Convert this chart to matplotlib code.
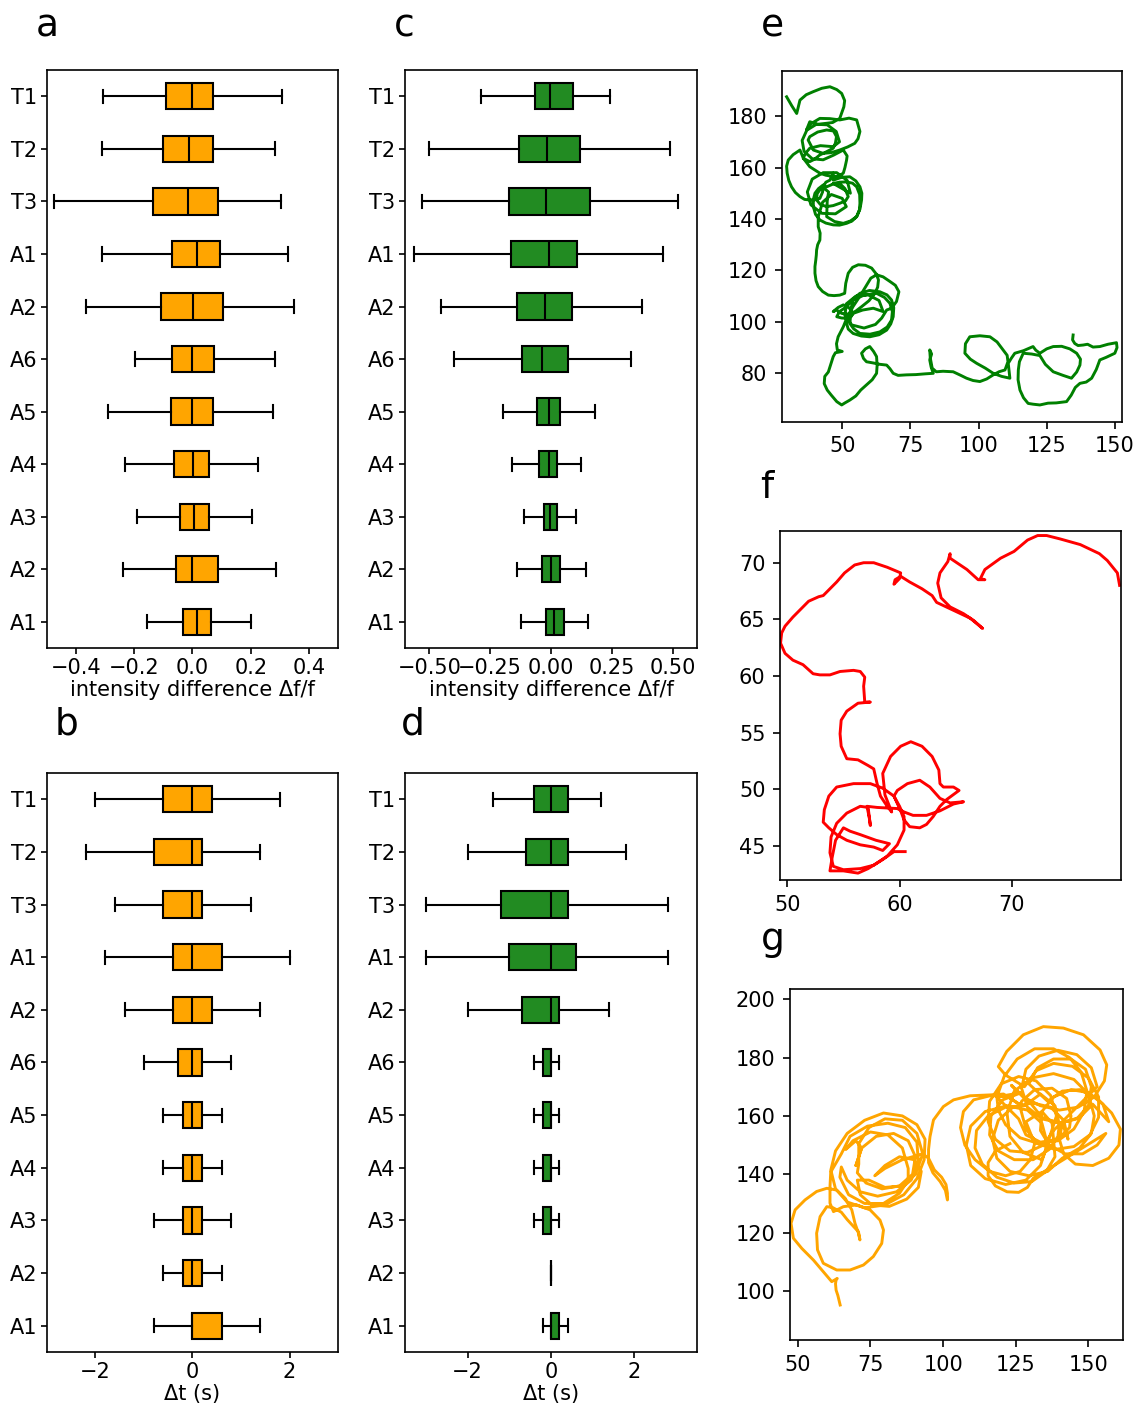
import matplotlib
matplotlib.use('Agg')
from matplotlib import pyplot as plt

# --- box plot summaries (top row of each panel first) ---
labels = ['T1', 'T2', 'T3', 'A1', 'A2', 'A6', 'A5', 'A4', 'A3', 'A2', 'A1']

# a : intensity difference, orange group
a_whislo = [-0.307, -0.310, -0.476, -0.310, -0.366, -0.196, -0.290, -0.231, -0.192, -0.239, -0.156]
a_q1 = [-0.090, -0.102, -0.137, -0.070, -0.108, -0.071, -0.073, -0.062, -0.043, -0.055, -0.032]
a_med = [0.000, -0.013, -0.016, 0.015, 0.001, 0.000, 0.000, 0.001, 0.005, 0.000, 0.016]
a_q3 = [0.070, 0.070, 0.089, 0.094, 0.106, 0.073, 0.070, 0.056, 0.058, 0.087, 0.062]
a_whishi = [0.309, 0.284, 0.304, 0.328, 0.350, 0.284, 0.275, 0.225, 0.205, 0.286, 0.201]

# c : intensity difference, green group
c_whislo = [-0.288, -0.502, -0.532, -0.562, -0.454, -0.398, -0.196, -0.159, -0.110, -0.139, -0.125]
c_q1 = [-0.066, -0.132, -0.173, -0.163, -0.140, -0.121, -0.059, -0.049, -0.030, -0.037, -0.022]
c_med = [-0.003, -0.018, -0.019, -0.010, -0.023, -0.036, -0.010, -0.007, -0.003, -0.001, 0.011]
c_q3 = [0.089, 0.121, 0.160, 0.108, 0.086, 0.069, 0.038, 0.025, 0.023, 0.036, 0.052]
c_whishi = [0.243, 0.491, 0.523, 0.460, 0.372, 0.329, 0.182, 0.123, 0.103, 0.145, 0.152]

# b : time lag, orange group
b_whislo = [-2.0, -2.2, -1.6, -1.8, -1.4, -1.0, -0.6, -0.6, -0.8, -0.6, -0.8]
b_q1 = [-0.6, -0.8, -0.6, -0.4, -0.4, -0.3, -0.2, -0.2, -0.2, -0.2, 0.0]
b_med = [0.0, 0.0, 0.0, 0.0, 0.0, 0.0, 0.0, 0.0, 0.0, 0.0, 0.0]
b_q3 = [0.4, 0.2, 0.2, 0.6, 0.4, 0.2, 0.2, 0.2, 0.2, 0.2, 0.6]
b_whishi = [1.8, 1.4, 1.2, 2.0, 1.4, 0.8, 0.6, 0.6, 0.8, 0.6, 1.4]

# d : time lag, green group
d_whislo = [-1.4, -2.0, -3.0, -3.0, -2.0, -0.4, -0.4, -0.4, -0.4, 0.0, -0.2]
d_q1 = [-0.4, -0.6, -1.2, -1.0, -0.7, -0.2, -0.2, -0.2, -0.2, 0.0, 0.0]
d_med = [0.0, 0.0, 0.0, 0.0, 0.0, 0.0, 0.0, 0.0, 0.0, 0.0, 0.0]
d_q3 = [0.4, 0.4, 0.4, 0.6, 0.2, 0.0, 0.0, 0.0, 0.0, 0.0, 0.2]
d_whishi = [1.2, 1.8, 2.8, 2.8, 1.4, 0.2, 0.2, 0.2, 0.2, 0.0, 0.4]

# --- trajectories (x, y) ---
path_e = [
    (29.6, 187.5), (31.5, 184.0), (33.3, 181.0), (34.5, 186.2), (36.8, 188.3), (39.4, 189.5), (42.5, 190.8),
    (45.5, 191.4), (48.0, 190.3), (49.8, 188.8), (50.9, 186.0), (50.6, 183.6), (49.1, 179.1), (46.5, 177.5),
    (44.3, 177.2), (41.0, 176.8), (38.1, 177.8), (36.9, 174.6), (38.5, 177.0), (41.8, 179.1), (45.5, 179.0),
    (49.1, 178.5), (52.5, 179.2), (55.3, 178.5), (56.5, 174.0), (55.8, 171.2), (54.6, 169.4), (52.0, 168.0),
    (49.1, 166.8), (46.0, 165.8), (43.0, 165.5), (39.4, 166.8), (37.5, 170.7), (38.1, 172.0), (41.0, 173.8),
    (44.3, 174.6), (46.8, 174.2), (47.9, 172.0), (47.5, 169.5), (46.7, 167.5), (44.0, 166.0), (41.8, 164.9),
    (39.8, 163.2), (38.1, 162.3), (35.7, 163.6), (36.5, 165.5), (38.1, 167.5), (42.0, 168.5), (46.7, 168.1),
    (49.0, 170.0), (47.8, 174.0), (44.5, 176.6), (40.5, 176.8), (37.0, 174.5), (35.3, 170.5), (36.0, 166.3),
    (39.0, 163.4), (43.0, 163.0), (46.8, 164.8), (50.4, 166.8), (51.8, 164.5), (51.6, 162.9), (51.0, 160.0),
    (50.4, 157.8), (48.5, 156.6), (46.7, 156.5), (44.0, 157.0), (41.8, 157.8), (38.1, 160.3), (35.8, 163.5),
    (34.5, 166.8), (32.0, 165.0), (30.2, 162.9), (29.6, 160.5), (29.8, 157.8), (30.4, 155.0), (31.4, 152.5),
    (32.8, 150.3), (34.5, 148.7), (36.2, 147.6), (38.1, 147.4), (40.2, 147.5), (41.8, 148.0), (42.8, 150.5),
    (43.0, 152.5), (44.0, 154.3), (45.5, 155.1), (46.7, 157.8), (46.7, 155.1), (49.8, 156.2), (52.8, 156.4),
    (55.0, 154.8), (56.5, 152.5), (57.2, 150.0), (57.1, 147.4), (56.5, 143.8), (55.3, 140.9), (53.6, 139.2),
    (51.6, 138.3), (49.0, 137.6), (46.7, 137.7), (44.0, 138.4), (41.8, 139.6), (40.2, 141.8), (39.4, 144.8),
    (39.4, 147.5), (40.0, 150.0), (41.3, 151.8), (43.0, 153.2), (44.3, 152.5), (46.7, 153.6), (49.1, 153.8),
    (51.0, 151.8), (52.2, 148.7), (51.2, 147.0), (49.1, 146.1), (46.7, 145.2), (44.3, 144.8), (42.0, 145.6),
    (40.6, 147.4), (40.8, 149.8), (41.8, 151.3), (43.5, 151.8), (45.0, 150.5), (44.5, 147.0), (44.3, 140.9),
    (47.2, 139.0), (50.4, 138.3), (53.0, 139.2), (55.3, 140.9), (56.3, 143.5), (56.5, 146.1), (56.4, 149.5),
    (55.3, 152.5), (53.8, 153.9), (51.6, 154.4), (49.0, 154.3), (46.7, 153.8), (53.0, 150.0), (51.8, 155.0),
    (48.0, 158.0), (43.0, 158.0), (39.0, 155.5), (37.2, 150.5), (38.5, 145.5), (42.5, 142.2), (47.5, 142.0),
    (51.5, 144.8), (50.0, 148.0), (46.0, 149.5), (42.8, 146.5), (41.8, 143.0), (41.2, 140.9), (41.2, 137.0),
    (41.9, 134.5), (41.8, 131.8), (41.0, 130.0), (40.6, 127.9), (40.5, 126.0), (40.3, 124.0), (40.0, 121.5),
    (40.0, 118.9), (40.4, 116.0), (41.2, 113.7), (42.8, 111.8), (44.9, 110.4), (47.0, 110.2), (49.1, 110.4),
    (50.9, 111.1), (51.3, 115.0), (52.2, 118.9), (53.8, 121.2), (55.9, 122.2), (58.5, 122.0), (60.8, 120.9),
    (62.5, 118.6), (63.3, 116.3), (63.0, 113.5), (62.0, 111.1), (59.8, 108.2), (57.1, 105.9), (55.0, 104.2),
    (53.4, 103.3), (51.5, 103.0), (49.8, 103.3), (47.9, 104.6), (46.7, 104.0), (48.5, 105.6), (50.4, 106.6),
    (52.5, 105.5), (54.0, 103.3), (53.0, 102.0), (51.6, 101.4), (49.8, 101.5), (48.0, 102.0), (49.0, 104.0),
    (51.6, 105.9), (53.8, 108.6), (56.5, 111.1), (60.0, 112.2), (63.8, 111.7), (66.4, 110.5), (68.1, 108.5),
    (68.9, 105.5), (68.7, 102.0), (67.8, 99.2), (66.3, 96.8), (63.5, 95.0), (60.1, 94.2), (57.0, 94.5),
    (54.0, 95.5), (52.2, 97.2), (51.6, 99.4), (51.8, 101.5), (52.8, 103.3), (54.0, 108.5), (58.0, 110.4),
    (62.6, 111.1), (65.5, 109.5), (67.5, 107.2), (68.4, 104.0), (68.1, 100.7), (66.5, 98.0), (63.8, 96.1),
    (60.2, 95.2), (56.5, 95.5), (54.2, 97.3), (52.8, 99.4), (53.0, 101.6), (54.0, 103.3), (57.5, 104.6),
    (61.4, 105.3), (65.0, 104.0), (63.5, 108.3), (59.5, 110.5), (55.0, 110.0), (51.5, 107.0), (51.0, 102.5),
    (53.5, 98.8), (58.0, 97.6), (62.2, 99.0), (64.5, 101.5), (66.3, 104.6), (68.1, 105.3), (69.9, 107.9),
    (70.8, 111.7), (69.5, 114.2), (67.5, 115.7), (65.0, 117.5), (62.6, 118.3), (60.5, 117.0), (58.8, 114.0),
    (56.5, 110.0), (54.0, 106.0), (51.5, 101.0), (50.4, 98.1), (48.5, 94.2), (47.9, 91.5), (48.2, 89.1),
    (50.0, 88.5), (47.5, 88.0), (46.7, 86.5), (45.8, 83.5), (44.9, 80.5), (43.6, 78.8), (43.4, 76.0),
    (44.5, 73.5), (46.0, 71.5), (48.0, 69.0), (49.8, 67.7), (51.0, 68.5), (52.8, 69.6), (55.0, 71.2),
    (56.8, 73.5), (58.9, 75.5), (61.0, 77.5), (62.6, 80.0), (62.8, 83.0), (62.6, 86.5), (61.5, 88.5),
    (60.1, 90.4), (58.5, 89.5), (57.1, 87.8), (57.8, 85.8), (58.9, 84.5), (61.5, 84.0), (63.8, 83.5),
    (66.3, 83.2), (67.5, 81.8), (68.7, 80.0), (70.5, 79.2), (73.6, 79.4), (77.0, 79.5), (80.5, 79.8),
    (83.4, 80.0), (82.6, 82.5), (82.1, 85.2), (82.8, 87.5), (82.1, 89.1), (82.3, 86.0), (83.0, 82.0),
    (84.5, 80.6), (87.0, 80.8), (90.7, 80.6), (93.5, 79.2), (95.6, 78.1), (98.0, 77.2), (100.5, 76.8),
    (103.0, 77.8), (105.4, 79.4), (107.5, 80.6), (109.7, 81.3), (110.8, 84.5), (110.5, 87.0), (109.0, 89.1),
    (106.8, 92.2), (104.2, 94.2), (100.5, 94.6), (96.8, 94.2), (95.2, 91.5), (95.0, 87.8), (97.0, 85.5),
    (99.3, 83.9), (102.5, 82.0), (105.4, 80.0), (108.5, 78.8), (111.5, 78.1), (111.2, 81.0), (110.9, 83.9),
    (112.0, 85.8), (113.3, 87.8), (116.5, 88.8), (120.0, 90.4), (121.0, 89.0), (122.5, 87.8), (125.0, 89.5),
    (127.4, 90.4), (130.5, 90.5), (133.5, 89.5), (136.0, 87.8), (137.4, 85.5), (137.2, 83.2), (136.0, 80.5),
    (134.1, 78.1), (131.0, 79.2), (127.4, 80.6), (124.5, 83.5), (122.5, 86.9), (119.5, 87.5), (116.4, 87.8),
    (115.0, 84.5), (114.6, 81.3), (114.5, 77.5), (115.2, 73.5), (116.5, 70.5), (118.2, 68.3), (120.0, 68.0),
    (122.5, 67.7), (125.5, 68.4), (128.5, 68.5), (132.3, 69.0), (134.0, 71.5), (135.5, 74.5), (137.2, 76.1),
    (139.5, 76.6), (141.5, 78.1), (143.2, 81.5), (144.5, 85.2), (146.8, 86.2), (150.0, 87.8), (150.8, 90.0),
    (150.6, 91.9), (147.5, 91.3), (144.5, 90.4), (142.0, 90.2), (140.0, 91.3), (138.4, 91.0), (136.5, 90.8),
    (135.3, 91.6), (134.5, 93.0), (134.7, 94.9),
]

path_f = [
    (79.6, 68.0), (79.4, 69.1), (78.5, 70.2), (77.8, 70.8), (76.1, 71.6), (74.3, 72.1), (73.1, 72.4),
    (72.3, 72.4), (71.4, 72.0), (70.2, 71.0), (69.0, 70.4), (67.6, 69.4), (67.2, 68.6), (67.6, 68.5),
    (67.0, 68.5), (66.0, 69.4), (64.5, 70.4), (64.5, 70.8), (64.3, 70.1), (63.6, 69.1), (63.4, 68.2),
    (63.7, 66.9), (64.5, 66.1), (65.7, 65.5), (66.6, 64.9), (67.4, 64.2), (66.3, 65.1), (64.8, 65.8),
    (63.3, 66.5), (62.9, 67.1), (62.0, 67.7), (60.9, 68.3), (60.1, 68.8), (59.6, 68.5), (59.5, 68.1),
    (60.0, 68.6), (60.1, 69.1), (58.9, 69.6), (57.7, 70.0), (56.8, 70.0), (56.0, 69.8), (55.1, 69.1),
    (54.4, 68.3), (53.5, 67.4), (53.2, 67.1), (52.8, 67.0), (51.9, 66.6), (51.1, 65.8), (50.5, 65.2),
    (49.8, 64.4), (49.5, 63.8), (49.4, 62.9), (49.8, 62.0), (50.5, 61.4), (51.4, 61.0), (52.3, 60.2),
    (52.9, 60.1), (53.8, 60.1), (54.7, 60.4), (55.9, 60.5), (56.5, 60.4), (56.9, 59.9), (56.8, 59.1),
    (56.9, 57.7), (57.4, 57.7), (56.3, 57.6), (55.3, 56.9), (54.8, 56.1), (54.7, 54.9), (54.8, 53.8),
    (55.3, 52.7), (56.3, 52.6), (57.2, 52.1), (57.7, 51.8), (58.0, 50.5), (58.3, 49.4), (58.9, 48.5),
    (59.3, 48.0), (58.7, 49.5), (58.5, 51.4), (59.2, 52.9), (60.1, 53.8), (61.0, 54.2), (62.0, 53.8),
    (62.9, 52.9), (63.5, 51.7), (63.6, 50.5), (63.9, 50.2), (64.8, 50.2), (65.3, 49.9), (64.2, 49.1),
    (63.6, 48.5), (63.0, 47.6), (62.4, 46.9), (61.8, 46.6), (60.9, 46.7), (60.4, 47.3), (60.1, 48.1),
    (59.5, 49.4), (59.8, 49.9), (60.7, 50.5), (61.8, 50.8), (62.7, 50.2), (63.6, 49.2), (64.5, 48.8),
    (65.7, 48.9), (64.8, 48.7), (63.6, 48.1), (62.4, 47.7), (61.2, 47.7), (60.4, 48.0), (59.8, 48.3),
    (58.0, 48.4), (57.1, 48.5), (57.3, 47.5), (57.4, 46.8), (57.2, 48.4), (56.5, 48.5), (55.3, 47.9),
    (54.4, 47.0), (53.9, 45.8), (53.8, 44.4), (54.1, 43.2), (55.0, 42.9), (56.5, 43.0), (57.7, 43.3),
    (58.9, 44.1), (59.8, 45.1), (60.4, 46.4), (60.4, 47.6), (60.0, 48.5), (59.5, 49.4), (58.5, 50.1),
    (57.4, 50.5), (55.9, 50.5), (54.4, 50.2), (53.7, 49.4), (53.3, 48.2), (53.2, 47.1), (53.7, 46.6),
    (54.4, 46.0), (55.3, 45.5), (56.5, 45.1), (57.7, 44.9), (58.5, 44.6), (59.1, 45.2), (57.9, 45.5),
    (56.5, 46.0), (55.6, 46.3), (55.0, 46.6), (54.3, 45.5), (54.0, 44.0), (53.8, 42.8), (55.0, 42.8),
    (56.3, 42.6), (57.2, 43.0), (58.5, 43.8), (59.5, 44.5), (60.5, 44.5),
]

path_g = [
    (64.6, 95.2), (63.8, 98.5), (63.2, 100.3), (63.0, 102.5), (63.2, 103.8), (63.6, 104.3), (61.7, 103.2),
    (58.8, 106.6), (55.4, 110.6), (51.4, 114.6), (48.5, 118.1), (47.7, 123.2), (49.1, 127.8), (52.5, 131.2),
    (56.5, 134.1), (60.0, 135.2), (63.4, 134.6), (66.3, 131.8), (68.6, 127.8), (69.7, 123.2), (70.9, 119.8),
    (71.4, 117.5), (70.9, 120.3), (69.2, 122.1), (67.0, 124.5), (65.0, 127.0), (62.0, 128.6), (60.0, 128.9),
    (57.7, 125.5), (56.5, 119.8), (56.8, 114.1), (58.8, 109.5), (63.4, 107.2), (68.0, 107.2), (72.6, 108.9),
    (76.0, 111.8), (78.9, 116.3), (79.5, 120.9), (78.3, 124.3), (74.9, 127.8), (70.3, 129.5), (65.7, 128.9),
    (62.3, 127.2), (61.1, 130.1), (61.1, 135.8), (61.4, 141.5), (63.0, 148.0), (67.0, 154.0), (73.0, 158.5),
    (79.5, 161.0), (86.0, 160.0), (91.0, 157.0), (93.8, 152.0), (93.5, 145.0), (91.0, 138.5), (86.5, 133.0),
    (80.0, 129.5), (73.0, 128.5), (67.0, 130.5), (63.0, 135.0), (61.5, 141.0), (65.0, 147.0), (68.0, 153.0),
    (74.0, 156.5), (81.0, 157.5), (87.0, 156.0), (91.0, 151.0), (91.5, 144.0), (89.0, 138.0), (84.0, 134.0),
    (77.5, 132.5), (71.5, 134.0), (67.0, 138.0), (65.0, 142.5), (64.5, 139.0), (67.5, 133.0), (73.0, 130.0),
    (79.5, 130.0), (85.0, 133.5), (88.0, 138.0), (88.0, 142.0), (86.0, 149.0), (81.0, 153.5), (75.0, 154.5),
    (69.0, 151.5), (66.5, 148.5), (70.0, 151.5), (72.0, 149.0), (70.0, 143.0), (72.0, 149.0), (77.0, 153.0),
    (83.0, 154.0), (88.0, 151.5), (90.5, 146.0), (89.5, 140.0), (85.0, 136.0), (79.0, 135.0), (73.5, 137.0),
    (70.5, 140.5), (71.0, 143.5), (71.0, 150.5), (74.5, 156.0), (80.0, 159.0), (86.0, 158.5), (91.0, 154.0),
    (93.0, 147.0), (90.5, 140.0), (86.0, 136.0), (80.0, 135.5), (74.5, 138.0), (70.5, 138.0), (71.5, 133.0),
    (75.5, 129.5), (81.5, 129.0), (87.5, 131.5), (91.5, 135.5), (92.5, 141.0), (90.0, 145.0), (85.0, 146.0),
    (80.0, 143.0), (76.5, 139.5), (80.0, 142.0), (86.0, 145.0), (93.0, 147.0), (95.0, 145.5), (97.0, 141.5),
    (99.5, 139.0), (101.0, 136.5), (101.5, 133.5), (101.5, 131.2), (100.8, 134.5), (99.0, 137.5),
    (96.5, 140.5), (95.0, 144.0), (95.0, 148.5), (95.5, 152.9), (96.7, 158.6), (100.1, 163.2),
    (103.6, 165.5), (109.3, 166.9), (116.2, 167.2), (120.8, 167.5), (127.0, 163.5), (122.5, 166.5),
    (116.5, 167.0), (110.5, 165.5), (107.0, 161.5), (106.0, 156.0), (107.5, 150.0), (111.0, 145.0),
    (116.0, 141.0), (121.5, 139.5), (126.5, 141.0), (130.0, 145.0), (131.5, 150.5), (128.5, 158.0),
    (134.0, 161.5), (137.5, 157.5), (138.0, 152.0), (138.5, 146.0), (135.5, 141.0), (130.5, 137.5),
    (124.5, 137.0), (118.5, 139.0), (113.5, 143.5), (111.0, 149.0), (111.5, 155.0), (115.5, 160.0),
    (121.5, 163.0), (128.0, 163.5), (133.5, 167.5), (138.5, 163.5), (140.0, 157.0), (139.5, 153.0),
    (136.5, 148.5), (131.0, 145.0), (124.5, 145.0), (119.0, 148.0), (116.0, 153.5), (116.5, 160.0),
    (120.5, 165.5), (127.0, 168.0), (118.5, 166.5), (119.0, 162.0), (121.5, 157.0), (126.5, 152.5),
    (133.0, 150.5), (139.5, 151.5), (145.0, 155.5), (148.5, 161.5), (149.5, 168.5), (147.5, 175.0),
    (143.5, 180.0), (138.0, 183.0), (131.5, 183.0), (125.5, 179.5), (121.0, 173.5), (118.5, 166.5),
    (126.0, 159.0), (128.5, 153.5), (133.5, 151.0), (139.5, 152.0), (143.5, 156.0), (144.0, 160.0),
    (142.5, 166.0), (137.5, 169.5), (131.5, 169.0), (127.0, 165.0), (126.5, 163.0), (128.5, 155.5),
    (132.5, 150.5), (138.5, 148.5), (145.0, 149.5), (150.5, 153.5), (153.5, 159.5), (153.5, 166.5),
    (150.0, 173.0), (144.5, 177.0), (138.0, 178.0), (132.0, 175.5), (128.0, 170.0), (121.5, 174.0),
    (119.0, 176.9), (121.9, 182.1), (127.6, 187.8), (134.5, 190.6), (141.4, 190.1), (148.3, 187.8),
    (154.0, 182.6), (156.3, 177.5), (155.5, 172.0), (152.0, 166.5), (146.5, 163.0), (140.0, 162.0),
    (133.5, 163.5), (127.5, 166.5), (123.5, 170.5), (130.0, 164.5), (134.0, 159.5), (140.0, 157.5),
    (146.0, 159.0), (150.0, 163.5), (151.0, 170.0), (149.0, 176.0), (144.0, 179.5), (138.0, 179.5),
    (132.5, 176.5), (129.5, 171.0), (136.0, 165.0), (141.0, 168.5), (147.0, 169.0), (153.0, 166.0),
    (158.0, 161.0), (161.0, 155.5), (160.5, 150.0), (157.0, 145.5), (151.5, 143.0), (145.5, 143.5),
    (141.5, 147.0), (140.0, 152.0), (141.0, 157.5), (143.0, 152.0), (141.5, 158.5), (137.0, 163.0),
    (130.5, 164.5), (124.0, 163.0), (119.0, 158.5), (117.0, 152.0), (118.5, 145.5), (123.0, 141.0),
    (129.5, 139.5), (136.0, 141.0), (141.0, 145.5), (147.0, 149.0), (151.0, 154.0), (152.0, 160.0),
    (150.0, 167.5), (145.0, 172.5), (138.0, 174.5), (130.5, 173.0), (124.5, 168.5), (122.0, 161.0),
    (123.0, 153.0), (127.5, 147.5), (134.0, 145.0), (136.0, 150.0), (134.0, 157.5), (129.0, 162.0),
    (122.0, 163.5), (114.5, 161.5), (109.5, 156.5), (108.0, 150.0), (109.5, 143.0), (114.5, 138.5),
    (121.5, 136.5), (128.5, 138.0), (133.5, 143.0), (139.0, 160.0), (137.0, 167.0), (132.0, 172.0),
    (126.0, 173.5), (120.0, 171.0), (116.0, 165.0), (115.5, 158.0), (118.0, 152.0), (123.0, 148.0),
    (129.0, 147.5), (134.5, 150.0), (138.0, 155.0), (153.0, 170.0), (151.0, 176.5), (146.0, 181.0),
    (139.5, 182.5), (133.0, 180.5), (128.5, 176.0), (127.0, 169.5), (129.0, 163.0), (134.0, 159.0),
    (140.5, 157.5), (147.0, 159.5), (151.5, 164.0), (157.0, 158.0), (155.0, 164.0), (150.0, 168.0),
    (144.0, 169.0), (138.0, 166.5), (134.0, 161.5), (133.5, 155.0), (136.5, 150.0), (142.0, 147.0),
    (148.0, 147.0), (153.0, 150.0), (156.0, 154.0), (131.0, 138.6), (129.0, 135.5), (126.0, 133.8),
    (122.0, 134.0), (118.0, 136.0), (115.5, 139.5), (115.5, 144.0), (118.0, 148.0), (123.0, 150.5),
]


def stats_from(whislo, q1, med, q3, whishi):
    out = []
    for i in range(len(labels)):
        out.append({'label': labels[i], 'whislo': whislo[i], 'q1': q1[i], 'med': med[i],
                    'q3': q3[i], 'whishi': whishi[i], 'fliers': []})
    return out


def box_panel(ax, stats, color, xlim, xticks, xlabel):
    n = len(stats)
    pos = list(range(n, 0, -1))
    ax.bxp(stats, positions=pos, widths=0.5, orientation='horizontal', patch_artist=True,
           showfliers=False,
           boxprops=dict(facecolor=color, edgecolor='black', linewidth=1.0),
           medianprops=dict(color='black', linewidth=1.0),
           whiskerprops=dict(color='black', linewidth=1.0),
           capprops=dict(color='black', linewidth=1.0))
    ax.set_ylim(0.5, n + 0.5)
    ax.set_xlim(*xlim)
    ax.set_xticks(xticks)
    ax.tick_params(length=3, pad=1.8)
    ax.set_xlabel(xlabel, labelpad=1)


fig = plt.figure(figsize=(7.6, 9.38), dpi=150)

ax_a = fig.add_axes([0.0412, 0.5394, 0.2553, 0.4108])
ax_c = fig.add_axes([0.3553, 0.5394, 0.2561, 0.4108])
ax_b = fig.add_axes([0.0412, 0.0391, 0.2553, 0.4115])
ax_d = fig.add_axes([0.3553, 0.0391, 0.2561, 0.4115])

box_panel(ax_a, stats_from(a_whislo, a_q1, a_med, a_q3, a_whishi), 'orange', (-0.5, 0.5),
          [-0.4, -0.2, 0.0, 0.2, 0.4], 'intensity difference Δf/f')
box_panel(ax_c, stats_from(c_whislo, c_q1, c_med, c_q3, c_whishi), 'forestgreen', (-0.6, 0.6),
          [-0.5, -0.25, 0.0, 0.25, 0.5], 'intensity difference Δf/f')
box_panel(ax_b, stats_from(b_whislo, b_q1, b_med, b_q3, b_whishi), 'orange', (-3.0, 3.0),
          [-2, 0, 2], 'Δt (s)')
box_panel(ax_d, stats_from(d_whislo, d_q1, d_med, d_q3, d_whishi), 'forestgreen', (-3.5, 3.5),
          [-2, 0, 2], 'Δt (s)')

ax_e = fig.add_axes([0.6857, 0.7003, 0.2982, 0.2492])
ax_f = fig.add_axes([0.6842, 0.3746, 0.2989, 0.2480])
ax_g = fig.add_axes([0.6930, 0.0476, 0.2921, 0.2495])

for ax, path, col, xl, yl in [
    (ax_e, path_e, 'green', (27.8, 152.5), (61.2, 197.5)),
    (ax_f, path_f, 'red', (49.35, 79.7), (42.0, 72.8)),
    (ax_g, path_g, 'orange', (47.35, 161.9), (83.2, 203.5)),
]:
    xs = [p[0] for p in path]
    ys = [p[1] for p in path]
    ax.plot(xs, ys, color=col, linewidth=1.4, solid_joinstyle='round')
    ax.set_xlim(*xl)
    ax.set_ylim(*yl)

ax_e.set_xticks([50, 75, 100, 125, 150])
ax_e.set_yticks([80, 100, 120, 140, 160, 180])
ax_f.set_xticks([50, 60, 70])
ax_f.set_yticks([45, 50, 55, 60, 65, 70])
ax_g.set_xticks([50, 75, 100, 125, 150])
ax_g.set_yticks([100, 120, 140, 160, 180, 200])

# panel letters
for letter, x, y in [('a', 0.0412, 0.9744), ('b', 0.0579, 0.4783), ('c', 0.3544, 0.9744),
                     ('d', 0.3623, 0.4783), ('e', 0.6772, 0.9744), ('f', 0.6728, 0.6461),
                     ('g', 0.678, 0.3248)]:
    fig.text(x, y, letter, fontsize=18, ha='center', va='baseline')

fig.savefig('out.png', dpi=150)
